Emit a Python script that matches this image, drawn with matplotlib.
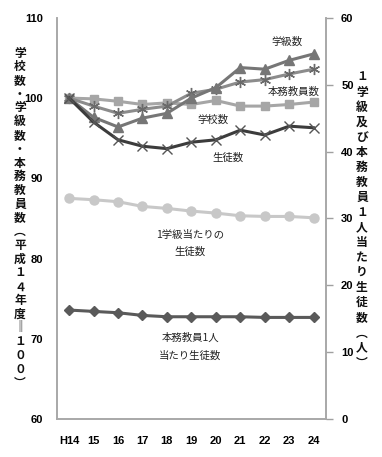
import numpy as np
import matplotlib
matplotlib.use("Agg")
import matplotlib.pyplot as plt
from matplotlib import font_manager

plt.rcParams['font.family'] = ['Noto Sans CJK JP', 'DejaVu Sans']

## data
years = ['H14', '15', '16', '17', '18', '19', '20', '21', '22', '23', '24']

# left axis (H14 = 100)
gakkyu = [100.0, 97.6, 96.4, 97.5, 98.1, 100.0, 101.3, 103.8, 103.6, 104.7, 105.5]
kyoin = [100.0, 99.0, 98.1, 98.6, 99.0, 100.6, 101.1, 102.0, 102.3, 103.0, 103.6]
gakko = [100.0, 99.9, 99.6, 99.2, 99.4, 99.2, 99.7, 99.0, 99.0, 99.2, 99.5]
seito = [100.0, 97.0, 94.8, 94.0, 93.7, 94.5, 94.8, 96.0, 95.4, 96.5, 96.3]

# right axis (persons)
per_class = [33.0, 32.8, 32.5, 31.8, 31.5, 31.1, 30.8, 30.4, 30.3, 30.3, 30.1]
per_teacher = [16.3, 16.1, 15.9, 15.5, 15.3, 15.3, 15.3, 15.3, 15.2, 15.2, 15.2]

left_label = '学校数・学級数・本務教員数︵平成１４年度‖１００︶'
right_label = '１学級及び本務教員１人当たり生徒数︵人︶'

x = np.arange(len(years))

# narrow bold face for the numbers if we have one
names = {f.name for f in font_manager.fontManager.ttflist}
num_family = 'Liberation Sans Narrow' if 'Liberation Sans Narrow' in names else 'Liberation Sans'

fig = plt.figure(figsize=(3.82, 4.57), dpi=100)
ax = fig.add_axes([0.149, 0.083, 0.704, 0.878])
ax2 = ax.twinx()

lw = 2.2
ax.plot(x, gakko, color='#a6a6a6', lw=lw, marker='s', ms=6, zorder=3)
ax.plot(x, kyoin, color='#8c8c8c', lw=lw, marker=(6, 2, 0), ms=8, mew=1.0,
        mec='#6a6a6a', zorder=4)
ax.plot(x, gakkyu, color='#767676', lw=lw, marker='^', ms=6.5, zorder=5)
ax.plot(x, seito, color='#3c3c3c', lw=lw, marker='x', ms=7, mew=1.0,
        mec='#555555', zorder=6)
ax2.plot(x, per_class, color='#c8c8c8', lw=lw, marker='o', ms=6.5)
ax2.plot(x, per_teacher, color='#5a5a5a', lw=lw, marker='D', ms=5.5)

ax.set_xlim(-0.5, len(years) - 0.5)
ax.set_ylim(60, 110)
ax2.set_ylim(0, 60)
ax.set_yticks(np.arange(60, 111, 10))
ax2.set_yticks(np.arange(0, 61, 10))
ax.set_xticks(x)
ax.set_xticklabels(years)

tick_font = dict(family=num_family, weight='bold', size=8)
for lab in ax.get_xticklabels() + ax.get_yticklabels() + ax2.get_yticklabels():
    lab.set(**tick_font)

ax.tick_params(axis='y', length=0, pad=10)
ax.tick_params(axis='x', length=0, pad=12)
ax2.tick_params(axis='y', length=5, width=1, color='#a0a0a0', pad=6)

for a in (ax, ax2):
    a.spines['top'].set_visible(False)
    for s in ('left', 'right', 'bottom'):
        a.spines[s].set_color('#a8a8a8')
        a.spines[s].set_linewidth(1.2)

## series labels
txt = dict(fontsize=7.5, color='#222222', ha='center', va='center')
ax.text(8.9, 107.0, '学級数', **txt)
ax.text(9.2, 100.8, '本務教員数', **txt)
ax.text(5.9, 97.25, '学校数', **txt)
ax.text(6.5, 92.5, '生徒数', **txt)
ax.text(4.96, 81.9, '1学級当たりの\n生徒数', linespacing=1.9, **txt)
ax.text(4.96, 69.0, '本務教員1人\n当たり生徒数', linespacing=1.9, **txt)

## vertical axis titles, one character per row
H = 457.0
ys = np.linspace(53, 383, len(left_label))
for ch, yy in zip(left_label, ys):
    fig.text(20 / 382, 1 - yy / H, ch, fontsize=8.5, weight='bold',
             ha='center', va='center', color='#111111')
ys = np.linspace(77, 363, len(right_label))
for ch, yy in zip(right_label, ys):
    fig.text(362 / 382, 1 - yy / H, ch, fontsize=8.5, weight='bold',
             ha='center', va='center', color='#111111')

fig.savefig('out.png', dpi=100)
